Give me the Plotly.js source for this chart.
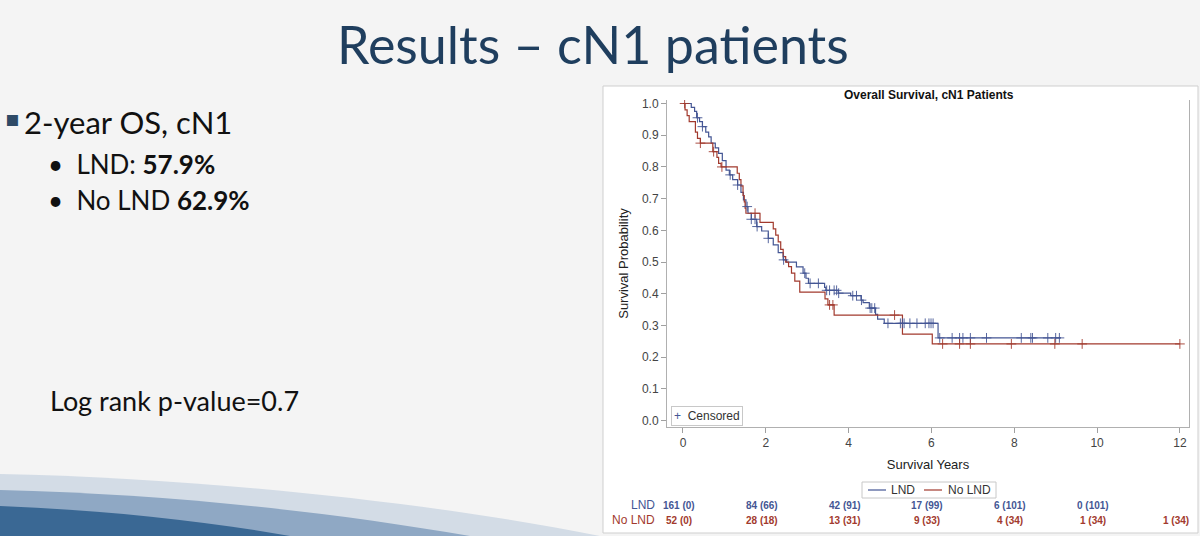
<!DOCTYPE html>
<html>
<head>
<meta charset="utf-8">
<script src="https://cdn.plot.ly/plotly-3.0.1.min.js"></script>
<style>
html,body{margin:0;padding:0;background:#f4f4f4;}
#chart{width:1200px;height:536px;}
</style>
</head>
<body>
<div id="chart"></div>
<script>
// ---------------- DATA ----------------
const lndTime = [0, 0.2, 0.28, 0.33, 0.4, 0.47, 0.55, 0.62, 0.68, 0.78, 0.86, 0.95, 1.04, 1.12, 1.2, 1.32, 1.4, 1.46, 1.52, 1.57, 1.65, 1.78, 1.9, 2.06, 2.18, 2.3, 2.42, 2.5, 2.74, 2.9, 2.97, 3.03, 3.42, 3.45, 3.75, 4.05, 4.3, 4.35, 4.5, 4.65, 4.7, 4.86, 6.16, 9.13];
const lndSurv = [1.0, 0.988, 0.975, 0.955, 0.943, 0.927, 0.91, 0.895, 0.875, 0.86, 0.843, 0.82, 0.79, 0.775, 0.76, 0.743, 0.72, 0.696, 0.675, 0.654, 0.635, 0.612, 0.598, 0.575, 0.554, 0.53, 0.507, 0.5, 0.485, 0.465, 0.449, 0.433, 0.42, 0.411, 0.402, 0.394, 0.38, 0.372, 0.355, 0.335, 0.32, 0.307, 0.261, 0.261];
const lndCensor = [0.35, 0.47, 1.14, 1.32, 1.55, 1.65, 1.74, 1.79, 2.06, 2.43, 2.94, 3.07, 3.27, 3.47, 3.54, 3.65, 3.71, 3.76, 4.1, 4.19, 4.31, 4.52, 4.56, 4.63, 4.95, 5.25, 5.30, 5.34, 5.48, 5.65, 5.85, 5.94, 5.99, 6.04, 6.2, 6.5, 6.68, 6.76, 6.94, 7.33, 8.17, 8.4, 8.44, 8.81, 9.0, 9.09];

const noTime = [0, 0.05, 0.1, 0.15, 0.3, 0.35, 0.42, 0.72, 0.82, 0.86, 0.92, 1.31, 1.36, 1.4, 1.45, 1.48, 1.5, 1.52, 1.86, 2.18, 2.24, 2.3, 2.36, 2.42, 2.48, 2.55, 2.62, 2.7, 2.82, 3.43, 3.5, 3.65, 5.3, 6.02, 12.0];
const noSurv = [1.0, 0.98, 0.962, 0.943, 0.91, 0.89, 0.875, 0.848, 0.83, 0.811, 0.8, 0.78, 0.76, 0.74, 0.71, 0.69, 0.67, 0.654, 0.625, 0.605, 0.585, 0.564, 0.54, 0.517, 0.5, 0.486, 0.465, 0.44, 0.405, 0.384, 0.365, 0.333, 0.273, 0.242, 0.242];
const noCensor = [0.04, 0.42, 0.74, 0.94, 1.74, 3.54, 3.62, 5.11, 6.27, 6.68, 6.94, 7.93, 8.98, 9.64, 12.0];

const atRiskTimes = [0, 2, 4, 6, 8, 10, 12];
const lndAtRisk = ['161 (0)', '84 (66)', '42 (91)', '17 (99)', '6 (101)', '0 (101)'];
const noAtRisk = ['52 (0)', '28 (18)', '13 (31)', '9 (33)', '4 (34)', '1 (34)', '1 (34)'];
const groupNames = ['LND', 'No LND'];
const xTicks = [0, 2, 4, 6, 8, 10, 12];
const yTicks = [0, 0.1, 0.2, 0.3, 0.4, 0.5, 0.6, 0.7, 0.8, 0.9, 1.0];

// ---------------- HELPERS ----------------
const W = 1200, H = 536;
const px = x => x / W;
const py = y => 1 - y / H;
function stepAt(times, surv, t) {
  let v = surv[0];
  for (let i = 0; i < times.length; i++) { if (times[i] <= t) v = surv[i]; }
  return v;
}
const BLUE = '#445694', RED = '#A23A2E';
const CF = 'Liberation Sans, Arial, sans-serif';
const SF = 'Lato, Open Sans, sans-serif';

const traces = [
  {x: lndTime, y: lndSurv, type: 'scatter', mode: 'lines', name: groupNames[0],
   line: {shape: 'hv', color: BLUE, width: 1.2}, hoverinfo: 'skip'},
  {x: noTime, y: noSurv, type: 'scatter', mode: 'lines', name: groupNames[1],
   line: {shape: 'hv', color: RED, width: 1.2}, hoverinfo: 'skip'},
  {x: lndCensor, y: lndCensor.map(t => stepAt(lndTime, lndSurv, t)), type: 'scatter', mode: 'markers',
   marker: {symbol: 'cross-thin', size: 7, line: {color: BLUE, width: 0.9}}, hoverinfo: 'skip'},
  {x: noCensor, y: noCensor.map(t => stepAt(noTime, noSurv, t)), type: 'scatter', mode: 'markers',
   marker: {symbol: 'cross-thin', size: 7, line: {color: RED, width: 0.9}}, hoverinfo: 'skip'}
];

const ann = [];
// slide title & text
ann.push({xref:'paper', yref:'paper', x: px(593), y: py(44), xanchor:'center', yanchor:'middle', showarrow:false,
  text:'Results – cN1 patients', font:{family:SF, size:52, color:'#1f3e5e'}});
ann.push({xref:'paper', yref:'paper', x: px(3), y: py(118), xanchor:'left', yanchor:'middle', showarrow:false,
  text:'▪', font:{family:'DejaVu Sans', size:22, color:'#2e4a66'}});
ann.push({xref:'paper', yref:'paper', x: px(22), y: py(122), xanchor:'left', yanchor:'middle', showarrow:false,
  text:'2-year OS, cN1', font:{family:SF, size:31, color:'#111'}});
ann.push({xref:'paper', yref:'paper', x: px(46), y: py(164), xanchor:'left', yanchor:'middle', showarrow:false,
  text:'•  LND: <b>57.9%</b>', font:{family:SF, size:26, color:'#111'}});
ann.push({xref:'paper', yref:'paper', x: px(46), y: py(200), xanchor:'left', yanchor:'middle', showarrow:false,
  text:'•  No LND <b>62.9%</b>', font:{family:SF, size:26, color:'#111'}});
ann.push({xref:'paper', yref:'paper', x: px(48), y: py(400), xanchor:'left', yanchor:'middle', showarrow:false,
  text:'Log rank p-value=0.7', font:{family:SF, size:27, color:'#111'}});
// chart title
ann.push({xref:'paper', yref:'paper', x: px(929), y: py(95), xanchor:'center', yanchor:'middle', showarrow:false,
  text:'<b>Overall Survival, cN1 Patients</b>', font:{family:CF, size:12, color:'#111'}});
// censored legend
ann.push({xref:'paper', yref:'paper', x: px(671), y: py(415.5), xanchor:'left', yanchor:'middle', showarrow:false,
  text:'<span style="color:' + BLUE + '">+</span>  Censored', font:{family:CF, size:12, color:'#333'},
  bordercolor:'#c8c8c8', borderwidth:1, borderpad:2, bgcolor:'#fff'});
// bottom group legend (text)
ann.push({xref:'paper', yref:'paper', x: px(889), y: py(490), xanchor:'left', yanchor:'middle', showarrow:false,
  text: groupNames[0], font:{family:CF, size:12, color:'#333'}});
ann.push({xref:'paper', yref:'paper', x: px(946), y: py(490), xanchor:'left', yanchor:'middle', showarrow:false,
  text: groupNames[1], font:{family:CF, size:12, color:'#333'}});
// at-risk table
ann.push({xref:'paper', yref:'paper', x: px(657), y: py(505), xanchor:'right', yanchor:'middle', showarrow:false,
  text: groupNames[0], font:{family:CF, size:12, color:BLUE}});
ann.push({xref:'paper', yref:'paper', x: px(657), y: py(520), xanchor:'right', yanchor:'middle', showarrow:false,
  text: groupNames[1], font:{family:CF, size:12, color:RED}});
lndAtRisk.forEach((s, i) => ann.push({xref:'x', yref:'paper', x: atRiskTimes[i], y: py(505), xanchor:'center', yanchor:'middle',
  xshift: -4, showarrow:false, text:'<b>' + s + '</b>', font:{family:CF, size:10, color:BLUE}}));
noAtRisk.forEach((s, i) => ann.push({xref:'x', yref:'paper', x: atRiskTimes[i], y: py(520), xanchor:'center', yanchor:'middle',
  xshift: -4, showarrow:false, text:'<b>' + s + '</b>', font:{family:CF, size:10, color:RED}}));

const shapes = [
  // white chart panel
  {type:'rect', xref:'paper', yref:'paper', x0: px(603), x1: px(1198), y0: py(533), y1: py(86),
   fillcolor:'#ffffff', line:{color:'#cfcfcf', width:1}, layer:'below'},
  // group legend box and line samples
  {type:'rect', xref:'paper', yref:'paper', x0: px(862), x1: px(996), y0: py(498), y1: py(482),
   fillcolor:'#ffffff', line:{color:'#c8c8c8', width:1}},
  {type:'line', xref:'paper', yref:'paper', x0: px(868), x1: px(886), y0: py(490), y1: py(490),
   line:{color:BLUE, width:1.2}},
  {type:'line', xref:'paper', yref:'paper', x0: px(924), x1: px(942), y0: py(490), y1: py(490),
   line:{color:RED, width:1.2}},
  // bottom-left swoosh decoration
  {type:'path', xref:'paper', yref:'paper', layer:'below', line:{width:0}, fillcolor:'#d3dce6',
   path:`M 0 ${py(474)} C ${px(200)} ${py(478)}, ${px(430)} ${py(502)}, ${px(600)} ${py(536)} L 0 ${py(536)} Z`},
  {type:'path', xref:'paper', yref:'paper', layer:'below', line:{width:0}, fillcolor:'#8fa8c4',
   path:`M 0 ${py(490)} C ${px(170)} ${py(494)}, ${px(330)} ${py(512)}, ${px(470)} ${py(536)} L 0 ${py(536)} Z`},
  {type:'path', xref:'paper', yref:'paper', layer:'below', line:{width:0}, fillcolor:'#3a6894',
   path:`M 0 ${py(506)} C ${px(100)} ${py(510)}, ${px(200)} ${py(520)}, ${px(290)} ${py(536)} L 0 ${py(536)} Z`}
];

const layout = {
  width: W, height: H,
  margin: {l:0, r:0, t:0, b:0},
  paper_bgcolor: '#f4f4f4',
  plot_bgcolor: 'rgba(0,0,0,0)',
  showlegend: false,
  xaxis: {domain:[px(667), px(1189)], range:[-0.386, 12.22], tickvals: xTicks, ticktext: xTicks.map(String),
    ticks:'outside', ticklen:5, tickcolor:'#a0a0a0', showline:true, linecolor:'#b0b0b0', linewidth:1,
    showgrid:false, zeroline:false, mirror:false,
    tickfont:{family:CF, size:12, color:'#444'},
    title:{text:'Survival Years', font:{family:CF, size:13, color:'#222'}, standoff:10}},
  yaxis: {domain:[py(427), py(100)], range:[-0.0199, 1.011], tickvals: yTicks, ticktext: yTicks.map(v => v.toFixed(1)),
    ticks:'outside', ticklen:5, tickcolor:'#a0a0a0', showline:true, linecolor:'#b0b0b0', linewidth:1,
    showgrid:false, zeroline:false, mirror:true,
    tickfont:{family:CF, size:12, color:'#444'},
    title:{text:'Survival Probability', font:{family:CF, size:13, color:'#222'}, standoff:10}},
  annotations: ann,
  shapes: shapes
};

Plotly.newPlot('chart', traces, layout, {displayModeBar:false, staticPlot:true});
</script>
</body>
</html>
